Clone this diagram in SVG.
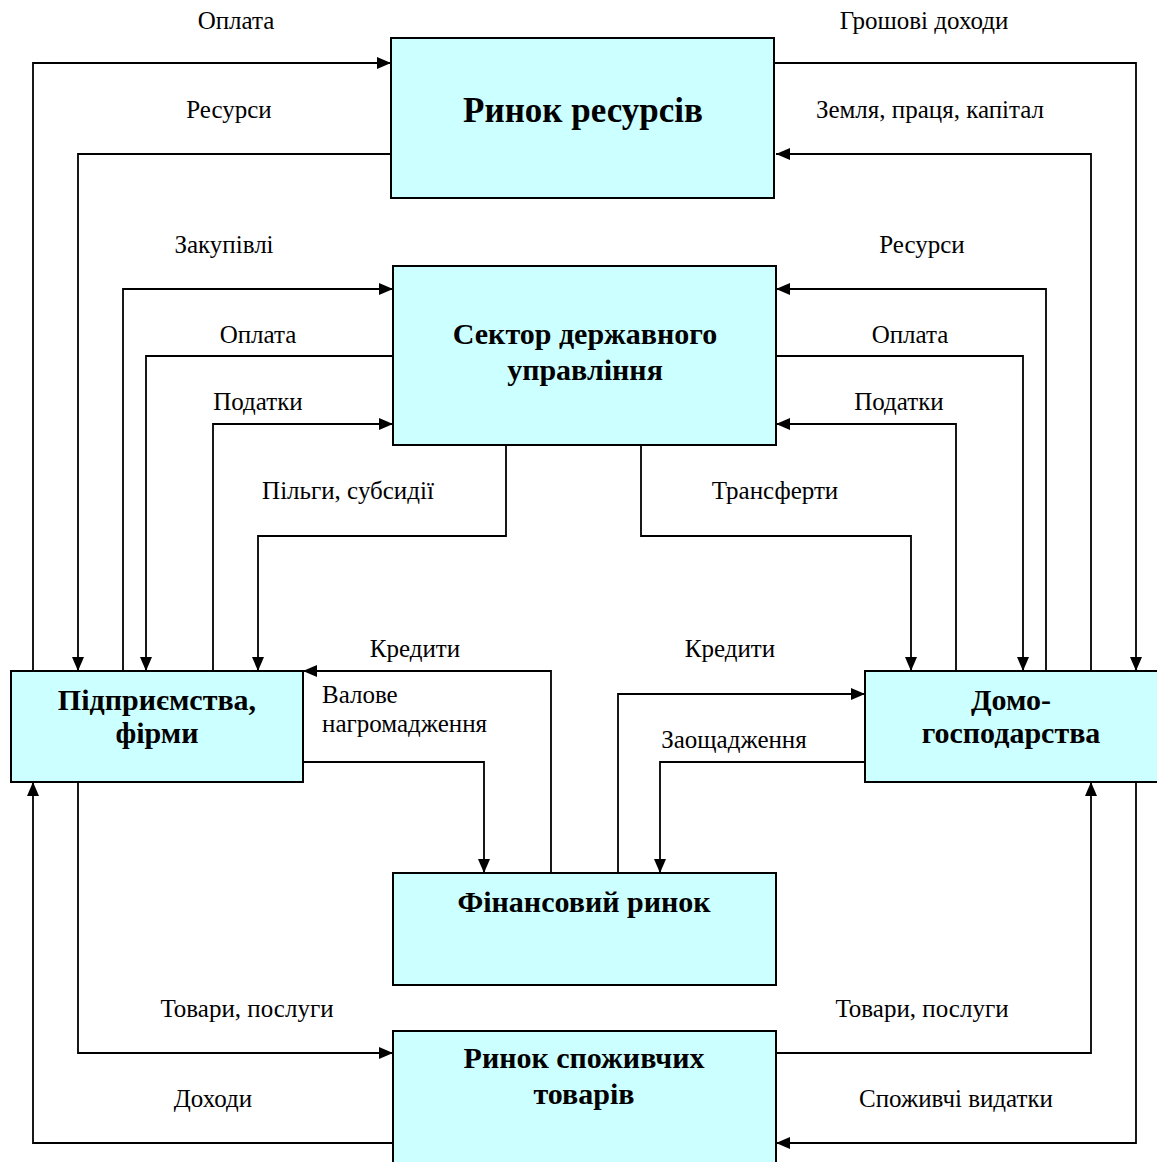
<svg xmlns="http://www.w3.org/2000/svg" width="1157" height="1162" viewBox="0 0 1157 1162">
<style>
.box{fill:#CCFFFF;stroke:#000;stroke-width:2}
.t{font-family:"Liberation Serif","Times New Roman",serif;font-size:30px;font-weight:bold;text-anchor:middle;fill:#000}
.big{font-size:35px}
.l{font-family:"Liberation Serif","Times New Roman",serif;font-size:25px;text-anchor:middle;fill:#000}
.ls{text-anchor:start}
.c{fill:none;stroke:#000;stroke-width:1.8}
</style>
<defs>
<marker id="a" viewBox="0 0 14 12" refX="14" refY="6" markerWidth="14" markerHeight="12" markerUnits="userSpaceOnUse" orient="auto">
<path d="M0,0 L14,6 L0,12 z" fill="#000"/>
</marker>
</defs>
<rect width="1157" height="1162" fill="#fff"/>
<g id="connectors">
<path class="c" d="M33,671 V63 H391" marker-end="url(#a)"/>
<path class="c" d="M391,154 H78 V671" marker-end="url(#a)"/>
<path class="c" d="M774,63 H1136 V671" marker-end="url(#a)"/>
<path class="c" d="M1091,671 V154 H776" marker-end="url(#a)"/>
<path class="c" d="M123,671 V289 H393" marker-end="url(#a)"/>
<path class="c" d="M393,356 H146 V671" marker-end="url(#a)"/>
<path class="c" d="M213,671 V424 H393" marker-end="url(#a)"/>
<path class="c" d="M506,445 V536 H258 V671" marker-end="url(#a)"/>
<path class="c" d="M641,445 V536 H911 V671" marker-end="url(#a)"/>
<path class="c" d="M1046,671 V289 H776" marker-end="url(#a)"/>
<path class="c" d="M776,356 H1023 V671" marker-end="url(#a)"/>
<path class="c" d="M956,671 V424 H776" marker-end="url(#a)"/>
<path class="c" d="M551,873 V671 H303" marker-end="url(#a)"/>
<path class="c" d="M303,762 H484 V873" marker-end="url(#a)"/>
<path class="c" d="M618,873 V694 H865" marker-end="url(#a)"/>
<path class="c" d="M865,762 H660 V873" marker-end="url(#a)"/>
<path class="c" d="M78,782 V1053 H393" marker-end="url(#a)"/>
<path class="c" d="M393,1143 H33 V782" marker-end="url(#a)"/>
<path class="c" d="M776,1053 H1091 V782" marker-end="url(#a)"/>
<path class="c" d="M1136,782 V1143 H776" marker-end="url(#a)"/>
</g>
<g id="labels">
<text class="l" x="236" y="29">Оплата</text>
<text class="l" x="229" y="118">Ресурси</text>
<text class="l" x="924" y="29">Грошові доходи</text>
<text class="l" x="930" y="118">Земля, праця, капітал</text>
<text class="l" x="224" y="253">Закупівлі</text>
<text class="l" x="258" y="343">Оплата</text>
<text class="l" x="258" y="410">Податки</text>
<text class="l" x="922" y="253">Ресурси</text>
<text class="l" x="910" y="343">Оплата</text>
<text class="l" x="899" y="410">Податки</text>
<text class="l" x="348" y="499">Пільги, субсидії</text>
<text class="l" x="775" y="499">Трансферти</text>
<text class="l" x="415" y="657">Кредити</text>
<text class="l ls" x="322" y="703">Валове</text>
<text class="l ls" x="322" y="732">нагромадження</text>
<text class="l" x="730" y="657">Кредити</text>
<text class="l" x="734" y="748">Заощадження</text>
<text class="l" x="247" y="1017">Товари, послуги</text>
<text class="l" x="213" y="1107">Доходи</text>
<text class="l" x="922" y="1017">Товари, послуги</text>
<text class="l" x="956" y="1107">Споживчі видатки</text>
</g>
<g id="resource-market">
<rect class="box" x="391" y="38" width="383" height="160"/>
<text class="t big" x="583" y="122">Ринок ресурсів</text>
</g>
<g id="government">
<rect class="box" x="393" y="266" width="383" height="179"/>
<text class="t" x="585" y="344">Сектор державного</text>
<text class="t" x="585" y="380">управління</text>
</g>
<g id="firms">
<rect class="box" x="11" y="671" width="292" height="111"/>
<text class="t" x="157" y="710">Підприємства,</text>
<text class="t" x="157" y="743">фірми</text>
</g>
<g id="households">
<rect class="box" x="865" y="671" width="293" height="111"/>
<text class="t" x="1011" y="710">Домо-</text>
<text class="t" x="1011" y="743">господарства</text>
</g>
<g id="financial-market">
<rect class="box" x="393" y="873" width="383" height="112"/>
<text class="t" x="584" y="912">Фінансовий ринок</text>
</g>
<g id="consumer-market">
<rect class="box" x="393" y="1031" width="383" height="135"/>
<text class="t" x="584" y="1068">Ринок споживчих</text>
<text class="t" x="584" y="1104">товарів</text>
</g>
</svg>
